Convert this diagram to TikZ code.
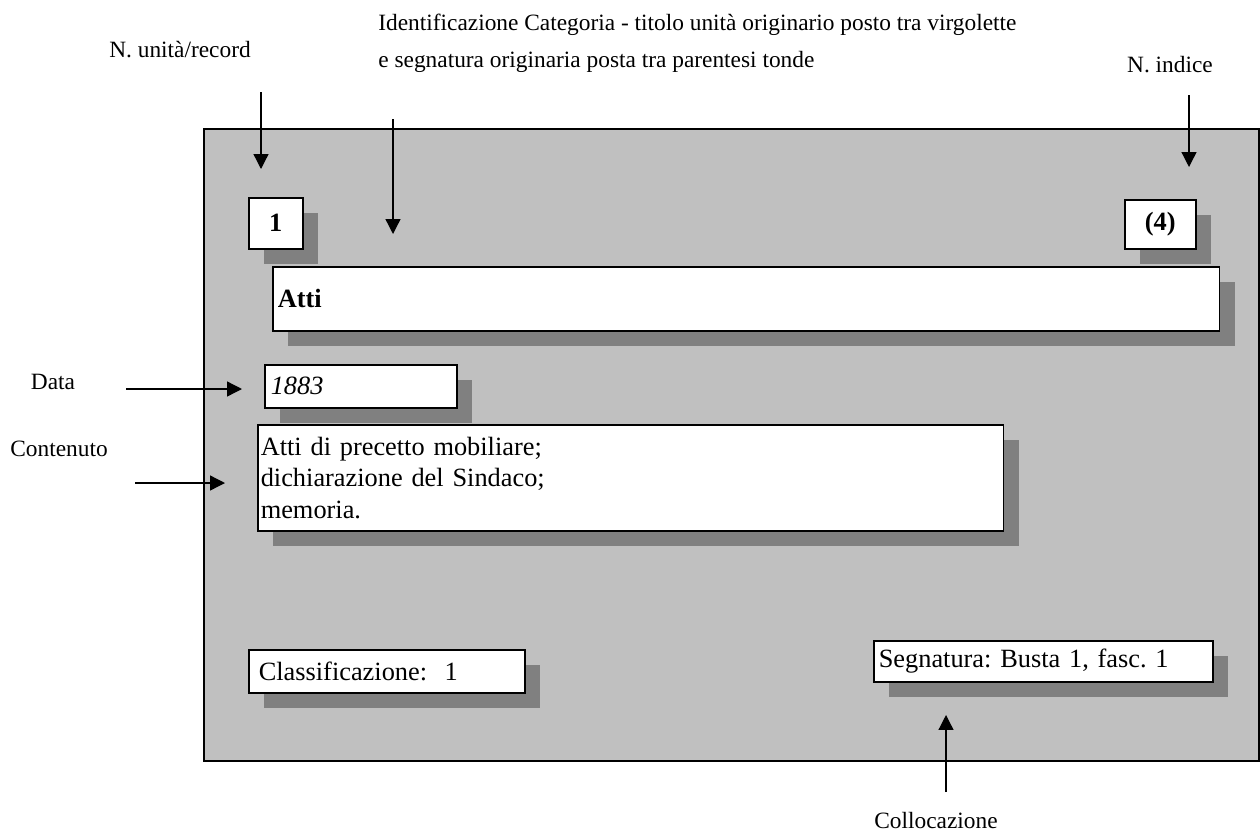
\documentclass[tikz,border=0pt]{standalone}
\usepackage{fontspec}
\setmainfont{Liberation Serif}
\usetikzlibrary{arrows.meta,shadows}
\frenchspacing

\definecolor{panelgray}{HTML}{C0C0C0}
\definecolor{shadowgray}{HTML}{808080}

\tikzset{
    cardbox/.style={draw=black, line width=0.9pt, fill=white, anchor=north west,
        inner ysep=0pt, align=left, font=\fontsize{15}{17.9}\selectfont,
        drop shadow={shadow xshift=0.31cm, shadow yshift=-0.31cm, fill=shadowgray, opacity=1}},
    lbl/.style={inner sep=0pt, font=\fontsize{13.3}{16}\selectfont},
    >={Triangle[length=8.5pt,width=8.5pt]}
}

\begin{document}
\begin{tikzpicture}[x=0.02cm,y=-0.02cm]
            \useasboundingbox (0,0) rectangle (1260,835);
            \draw[fill=panelgray, line width=0.9pt] (204,129) rectangle (1259,761);
            % boxes of the card
            \node[cardbox, align=center, inner xsep=0pt, text width=1.08cm, minimum height=1.02cm] (nunit) at (248,197) {\textbf{1}};
            \node[cardbox, align=center, inner xsep=0pt, text width=1.42cm, minimum height=0.98cm] (nind) at (1124,199) {\textbf{(4)}};
            \node[cardbox, inner xsep=0.1cm, text width=18.74cm, minimum height=1.28cm] (titolo) at (272,266) {\textbf{Atti}};
            \node[cardbox, inner xsep=0.12cm, text width=3.6cm, minimum height=0.86cm] (data) at (264,364) {\textit{1883}};
            \node[cardbox, inner xsep=0.06cm, text width=14.8cm, minimum height=2.12cm] (cont) at (257,424) {Atti di precetto mobiliare;\\dichiarazione del Sindaco;\\memoria.};
            \node[cardbox, inner xsep=0.2cm, text width=5.12cm, minimum height=0.86cm] (class) at (248,649) {Classificazione:\ \ 1};
            \node[cardbox, inner xsep=0.1cm, text width=6.58cm, minimum height=0.82cm] (segn) at (873,640) {Segnatura: Busta 1, fasc. 1};
            % labels
            \node[lbl] (lrec) at (180,50) {N. unità/record};
            \node[lbl, anchor=west] (lcat1) at (378,25) {Identificazione Categoria - titolo unità originario posto tra virgolette};
            \node[lbl, anchor=west] (lcat2) at (378,62) {e segnatura originaria posta tra parentesi tonde};
            \node[lbl] (lind) at (1170,65) {N. indice};
            \node[lbl] (ldat) at (53,382) {Data};
            \node[lbl] (lcon) at (59,449) {Contenuto};
            \node[lbl] (lcol) at (936,820) {Collocazione};
            % arrow ends
            \coordinate (recS) at (261,92);
            \coordinate (recE) at (261,169);
            \coordinate (catS) at (393,119);
            \coordinate (catE) at (393,234);
            \coordinate (indS) at (1189,95);
            \coordinate (indE) at (1189,167);
            \coordinate (datS) at (126,389);
            \coordinate (datE) at (242,389);
            \coordinate (conS) at (135,483);
            \coordinate (conE) at (225,483);
            \coordinate (colS) at (946,792);
            \coordinate (colE) at (946,715);
            \draw[line width=0.75pt] (recS) edge [->] (recE);
            \draw[line width=0.75pt] (catS) edge [->] (catE);
            \draw[line width=0.75pt] (indS) edge [->] (indE);
            \draw[line width=0.75pt] (datS) edge [->] (datE);
            \draw[line width=0.75pt] (conS) edge [->] (conE);
            \draw[line width=0.75pt] (colS) edge [->] (colE);
\end{tikzpicture}
\end{document}
